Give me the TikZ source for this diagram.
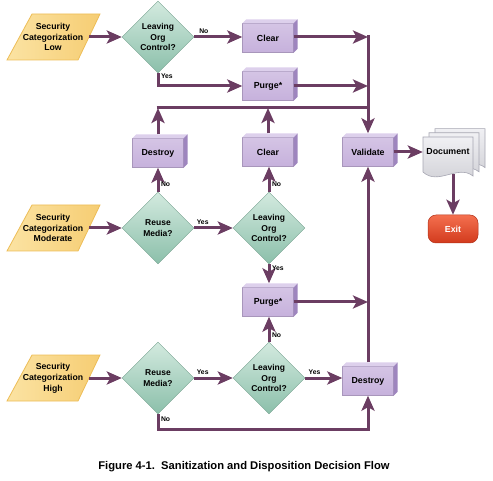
\documentclass[tikz,border=0pt]{standalone}
\usepackage{fontspec}
\setmainfont{Liberation Sans}
\usetikzlibrary{shapes.geometric,arrows.meta}
\definecolor{flowc}{HTML}{6B3D62}
\definecolor{diaT}{HTML}{D3EADF}
\definecolor{diaB}{HTML}{8BBFAA}
\definecolor{boxfront}{HTML}{C6B1DC}
\definecolor{boxtop}{HTML}{DDD0EC}
\definecolor{boxside}{HTML}{9E85BE}
\definecolor{inL}{HTML}{FBE3A3}
\definecolor{inR}{HTML}{F6CD73}
\definecolor{inE}{HTML}{EDBD57}
\definecolor{docF}{HTML}{E6E6EC}
\definecolor{docE}{HTML}{A6A6B2}
\definecolor{exT}{HTML}{F4704F}
\definecolor{exB}{HTML}{D23A1D}
\begin{document}
\begin{tikzpicture}[x=1pt,y=-1pt,
  intext/.style={minimum width=72pt,minimum height=46pt,inner sep=0pt,align=center,
    font=\fontsize{8.7}{10.8}\selectfont\bfseries},
  inshape/.style={left color=inL,right color=inR,draw=inE,line width=0.8pt},
  dia/.style={diamond,aspect=1,minimum width=72pt,minimum height=72pt,inner sep=0pt,
    top color=diaT,bottom color=diaB,draw=diaB!85!black,line width=0.4pt,align=center,
    font=\fontsize{8.5}{10.5}\selectfont\bfseries},
  box/.style={rectangle,minimum width=51pt,minimum height=29pt,inner sep=0pt,
    top color=boxfront!75!white,bottom color=boxfront,draw=boxfront!85!black,line width=0.4pt,
    font=\fontsize{8.8}{10}\selectfont\bfseries},
  lbl/.style={font=\fontsize{6.8}{7}\selectfont\bfseries,inner sep=1.5pt},
  flow/.style={draw=flowc,line width=3pt,-{Stealth[length=15pt,width=13pt,inset=3.5pt]}},
  flowline/.style={draw=flowc,line width=3pt},
  docshape/.style={top color=docF!60!white,bottom color=docF!90!black,draw=docE,line width=0.6pt},
]
\useasboundingbox (0,0) rectangle (493,481);

% ---- input parallelograms
\foreach \y in {37,228,378}{
  \path[inshape] (7,\y+23) -- (32,\y-23) -- (100,\y-23) -- (78,\y+23) -- cycle;
}
\node[intext] (lowin) at (53,37) {Security\\Categorization\\Low};
\node[intext] (modin) at (53,228) {Security\\Categorization\\Moderate};
\node[intext] (highin) at (53,378) {Security\\Categorization\\High};

% ---- decisions
\node[dia] (lowq) at (158,37) {Leaving\\Org\\Control?};
\node[dia] (modq) at (158,228) {Reuse\\Media?};
\node[dia] (levB) at (269,228) {Leaving\\Org\\Control?};
\node[dia] (highq) at (158,378) {Reuse\\Media?};
\node[dia] (levC) at (269,378) {Leaving\\Org\\Control?};

% ---- process boxes
\node[box] (clearA) at (268,38) {Clear};
\node[box] (purgeA) at (268,86) {Purge*};
\node[box] (destroyA) at (158,153) {Destroy};
\node[box] (clearB) at (268,152) {Clear};
\node[box] (validate) at (368,152) {Validate};
\node[box] (purgeB) at (268,302) {Purge*};
\node[box] (destroyB) at (368,381) {Destroy};
\foreach \n in {clearA,purgeA,destroyA,clearB,validate,purgeB,destroyB}{
  \fill[boxtop] (\n.north west) -- ++(4,-4) -- ([shift={(4,-4)}]\n.north east) -- (\n.north east) -- cycle;
  \fill[boxside] (\n.north east) -- ++(4,-4) -- ([shift={(4,-4)}]\n.south east) -- (\n.south east) -- cycle;
}

% ---- document
\node[minimum width=50pt,minimum height=44pt,inner sep=0pt] (doc) at (448,152) {};
\foreach \d in {12,6,0}{
  \path[docshape] (423+\d,137-\d*0.7) -- (473+\d,137-\d*0.7) -- (473+\d,176-\d*0.7)
    .. controls (458+\d,164-\d*0.7) and (438+\d,186-\d*0.7) .. (423+\d,172-\d*0.7) -- cycle;
}
\node[font=\fontsize{8.8}{10}\selectfont\bfseries] at (doc.center) {Document};

% ---- exit
\node[rounded corners=8pt,minimum width=50pt,minimum height=28pt,inner sep=0pt,
  top color=exT,bottom color=exB,draw=exB!85!black,line width=0.5pt,text=white,
  font=\fontsize{8.8}{10}\selectfont\bfseries] (exit) at (453,229) {Exit};

% ---- junction coordinates
\coordinate (vtop) at (368,35);
\coordinate (jA) at (368,37);
\coordinate (jB) at (368,86);
\coordinate (hL) at (158,108);
\coordinate (hR) at (368,108);
\coordinate (hM) at (268,108);
\coordinate (jC) at (368,302);

% ---- connectors
\draw[flow] (lowin.east) -- (lowq.west);
\draw[flow] (modin.east) -- (modq.west);
\draw[flow] (highin.east) -- (highq.west);

\draw[flow] (lowq.east) -- node[lbl,pos=0.2,above]{No} (lowq.east -| clearA.west);
\draw[flow] (lowq.south) |- node[lbl,pos=0.12,right]{Yes} (purgeA.west);
\draw[flow] (clearA.east |- jA) -- (jA);
\draw[flow] (purgeA.east) -- (jB);
\draw[flowline] ([xshift=-1.5pt]hL) -- (hR);
\draw[flow] (vtop) -- ([yshift=4pt]validate.north);
\draw[flow] ([yshift=4pt]destroyA.north) -- (hL);
\draw[flow] ([yshift=4pt]clearB.north) -- (hM);

\draw[flow] (modq.north) -- node[lbl,pos=0.3,right]{No} (destroyA.south);
\draw[flow] (modq.east) -- node[lbl,pos=0.22,above]{Yes} (levB.west);
\draw[flow] (levB.north) -- node[lbl,pos=0.3,right]{No} (levB.north |- clearB.south);
\draw[flow] (levB.south) -- node[lbl,pos=0.22,right]{Yes} ([yshift=4pt]levB.south |- purgeB.north);
\draw[flow] (purgeB.east) -- (jC);

\draw[flow] (highq.east) -- node[lbl,pos=0.22,above]{Yes} (levC.west);
\draw[flow] (levC.north) -- node[lbl,pos=0.25,right]{No} (levC.north |- purgeB.south);
\draw[flow] (levC.east) -- node[lbl,pos=0.25,above]{Yes} (levC.east -| destroyB.west);
\draw[flow] ([yshift=4pt]destroyB.north) -- (validate.south);
\draw[flow] (highq.south) -- node[lbl,pos=0.3,right]{No} ++(0,15) -| (destroyB.south);

\draw[flow] (validate.east) -- (doc.west);
\draw[flow] (exit.north |- doc.south) -- (exit.north);

% ---- caption
\node[font=\fontsize{11.2}{13}\selectfont\bfseries] (cap) at (244,467) {Figure 4-1.\ \ Sanitization and Disposition Decision Flow};
\end{tikzpicture}
\end{document}
